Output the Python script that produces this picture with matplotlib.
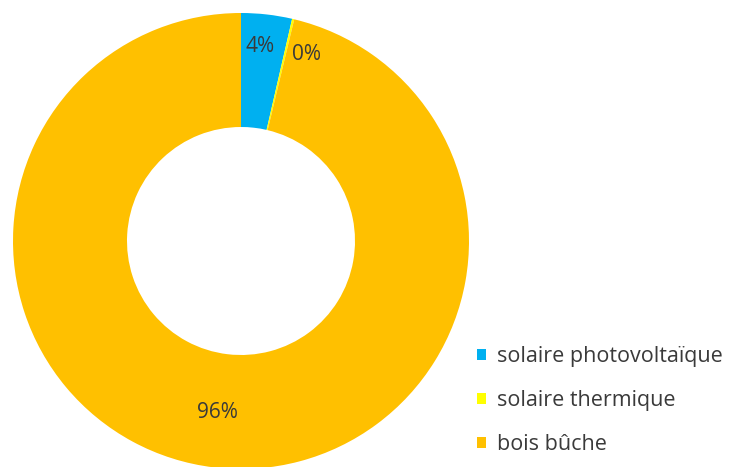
import numpy as np
import matplotlib
matplotlib.use("Agg")
import matplotlib.pyplot as plt
from matplotlib.patches import Patch

categories = ["solaire photovoltaïque", "solaire thermique", "bois bûche"]
values = [3.6, 0.15, 96.25]
labels = ["4%", "0%", "96%"]
colors = ["#00B0F0", "#FFFF00", "#FFC000"]

W, H = 733, 467
fig = plt.figure(figsize=(W / 100, H / 100), dpi=100)
ax = fig.add_axes([0, 0, 1, 1])
cx, cy, R = 241, 241, 228

wedges, _ = ax.pie(values, colors=colors, startangle=90, counterclock=False,
                   radius=1.0, wedgeprops=dict(width=0.5, linewidth=0),
                   frame=False)
ax.set_xlim(-cx / R, (W - cx) / R)
ax.set_ylim(-(H - cy) / R, cy / R)
ax.set_aspect("equal")
ax.axis("off")

# label placement (radius, angle offset in degrees)
adj = [(0.855, 1.0), (0.866, -6.0), (0.76, -1.0)]
for w, lab, (r, da) in zip(wedges, labels, adj):
    ang = np.deg2rad((w.theta1 + w.theta2) / 2 + da)
    ax.text(r * np.cos(ang), r * np.sin(ang), lab, ha="center", va="center",
            fontsize=15, color="#3a3a3a", family="Open Sans")

handles = [Patch(facecolor=c, edgecolor="none") for c in colors]
leg = fig.legend(handles, categories, loc="upper left",
                 bbox_to_anchor=(477 / W, 1 - 346 / H), frameon=False,
                 handlelength=0.42, handleheight=0.42,
                 handletextpad=0.5, labelspacing=1.08, borderpad=0,
                 borderaxespad=0,
                 prop=dict(family="Open Sans", size=15.5))
for t in leg.get_texts():
    t.set_color("#3a3a3a")

fig.savefig("out.png", dpi=100)
